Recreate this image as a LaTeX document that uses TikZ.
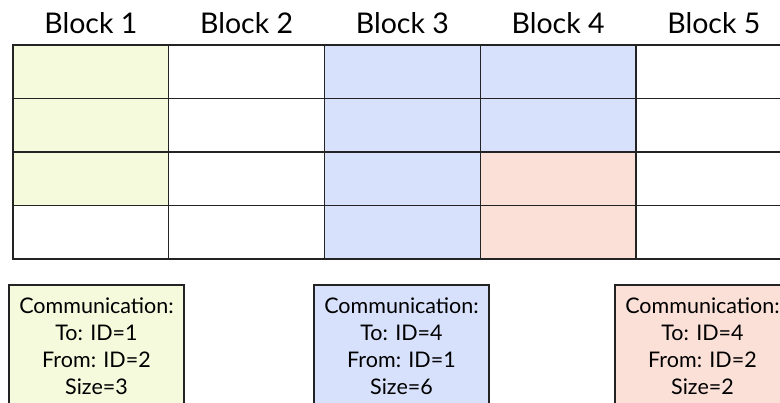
\documentclass[tikz,border=0pt]{standalone}
\usepackage{fontspec}
\setmainfont{Lato}
\definecolor{cellgreen}{RGB}{245,250,220}
\definecolor{cellblue}{RGB}{215,225,252}
\definecolor{cellpink}{RGB}{251,224,215}
\definecolor{gridline}{RGB}{35,35,35}
\begin{document}
\begin{tikzpicture}[x=1pt,y=-1pt,
  cell/.style={draw=gridline, line width=1.2pt, minimum width=155.75pt,
    minimum height=53.5pt, inner sep=0pt, outer sep=0pt, anchor=north west},
  hdr/.style={font=\fontsize{28.5}{32}\selectfont, inner sep=0pt},
  commbox/.style={draw=gridline, line width=1.3pt, minimum width=175pt,
    minimum height=122pt, inner sep=0pt, outer sep=0pt, anchor=north west,
    align=center, font=\fontsize{21.5}{27}\selectfont}]
\useasboundingbox (0,0) rectangle (780,403);
\clip (0,0) rectangle (780,403);
\fill[white] (0,0) rectangle (780,403);
% block headers
\foreach \c in {1,...,5}
  \node[hdr] (h\c) at ({13+155.75*(\c-0.5)},23) {Block \c};
% grid of cells: column/row/fill
\foreach \c/\r/\f in {1/1/cellgreen,1/2/cellgreen,1/3/cellgreen,1/4/white,
  2/1/white,2/2/white,2/3/white,2/4/white,
  3/1/cellblue,3/2/cellblue,3/3/cellblue,3/4/cellblue,
  4/1/cellblue,4/2/cellblue,4/3/cellpink,4/4/cellpink,
  5/1/white,5/2/white,5/3/white,5/4/white}
  \node[cell, fill=\f] (c\c r\r) at ({13+155.75*(\c-1)},{45+53.5*(\r-1)}) {};
% communication records
\node[commbox, fill=cellgreen] (m1) at (9,285)
  {Communication:\\To: ID=1\\From: ID=2\\Size=3};
\node[commbox, fill=cellblue] (m2) at (314,285)
  {Communication:\\To: ID=4\\From: ID=1\\Size=6};
\node[commbox, fill=cellpink] (m3) at (615,285)
  {Communication:\\To: ID=4\\From: ID=2\\Size=2};
\end{tikzpicture}
\end{document}
